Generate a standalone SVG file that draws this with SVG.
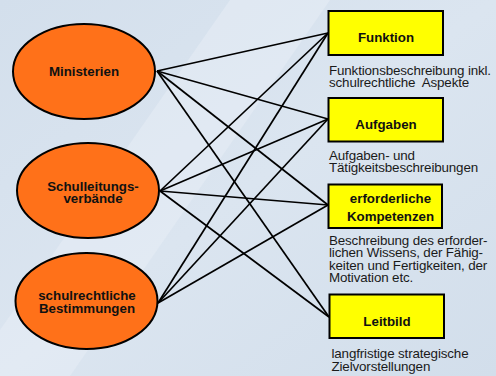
<svg xmlns="http://www.w3.org/2000/svg" width="496" height="376" viewBox="0 0 496 376">
<style>
.ell{fill:#ff7119;stroke:#000;stroke-width:2}
.box{fill:#ffff00;stroke:#000;stroke-width:2}
.lbl{font-family:"Liberation Sans",Arial,sans-serif;font-weight:bold;font-size:13.3px;fill:#111;text-anchor:middle}
.desc{font-family:"Liberation Sans",Arial,sans-serif;font-size:13.4px;fill:#1a1a1a;letter-spacing:-0.15px}
.con line{stroke:#000;stroke-width:1.7}
</style>
<defs>
<linearGradient id="bg" x1="0" y1="0" x2="1" y2="1">
<stop offset="0" stop-color="#d3dfec"/>
<stop offset="0.5" stop-color="#dbe5f0"/>
<stop offset="1" stop-color="#d2deeb"/>
</linearGradient>
</defs>
<rect width="496" height="376" fill="url(#bg)"/>
<polygon points="230,0 330,0 70,376 0,376 0,330" fill="#e6edf5" opacity="0.6"/>
<g class="con">
<line x1="157" y1="71" x2="328" y2="33"/>
<line x1="157" y1="71" x2="328" y2="119"/>
<line x1="157" y1="71" x2="328" y2="205"/>
<line x1="157" y1="71" x2="329" y2="317"/>
<line x1="160" y1="191" x2="328" y2="33"/>
<line x1="160" y1="191" x2="328" y2="119"/>
<line x1="160" y1="191" x2="328" y2="205"/>
<line x1="160" y1="191" x2="329" y2="317"/>
<line x1="158" y1="303" x2="328" y2="33"/>
<line x1="158" y1="303" x2="328" y2="119"/>
<line x1="158" y1="303" x2="328" y2="205"/>
</g>
<g id="ministerien">
<ellipse class="ell" cx="84" cy="71.5" rx="71" ry="47.5"/>
<text class="lbl" x="84" y="75.5">Ministerien</text>
</g>
<g id="schulleitungsverbaende">
<ellipse class="ell" cx="88" cy="190.5" rx="71" ry="47.5"/>
<text class="lbl" x="93" y="190.5">Schulleitungs-</text>
<text class="lbl" x="93" y="203">verbände</text>
</g>
<g id="bestimmungen">
<ellipse class="ell" cx="86.5" cy="301" rx="71" ry="48"/>
<text class="lbl" x="87" y="300">schulrechtliche</text>
<text class="lbl" x="87" y="313">Bestimmungen</text>
</g>
<g id="funktion">
<rect class="box" x="328.5" y="11" width="114.5" height="44"/>
<text class="lbl" x="386" y="42">Funktion</text>
<text class="desc" x="329" y="75">Funktionsbeschreibung inkl.</text>
<text class="desc" x="329" y="86.7">schulrechtliche&#160; Aspekte</text>
</g>
<g id="aufgaben">
<rect class="box" x="328.5" y="98" width="114.5" height="43.5"/>
<text class="lbl" x="386" y="129">Aufgaben</text>
<text class="desc" x="329" y="160">Aufgaben- und</text>
<text class="desc" x="329" y="171.7">Tätigkeitsbeschreibungen</text>
</g>
<g id="kompetenzen">
<rect class="box" x="328.5" y="184.5" width="113.5" height="43.5"/>
<text class="lbl" x="390.5" y="203">erforderliche</text>
<text class="lbl" x="390.5" y="221">Kompetenzen</text>
<text class="desc" x="329" y="245">Beschreibung des erforder-</text>
<text class="desc" x="329" y="257.3">lichen Wissens, der Fähig-</text>
<text class="desc" x="329" y="269.5">keiten und Fertigkeiten, der</text>
<text class="desc" x="329" y="281.7">Motivation etc.</text>
</g>
<g id="leitbild">
<rect class="box" x="329.5" y="294.5" width="114.5" height="43.5"/>
<text class="lbl" x="387" y="326">Leitbild</text>
<text class="desc" x="331.5" y="358.3">langfristige strategische</text>
<text class="desc" x="331.5" y="371">Zielvorstellungen</text>
</g>
</svg>
